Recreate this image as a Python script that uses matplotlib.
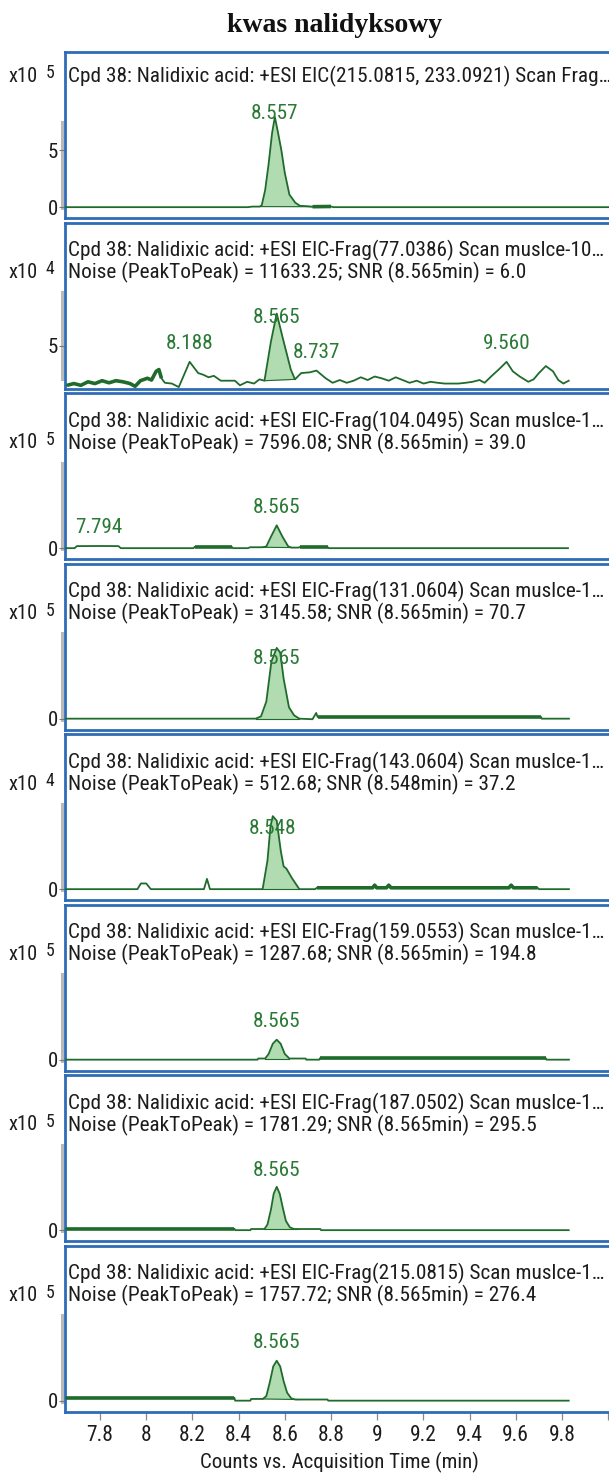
import matplotlib
matplotlib.use("Agg")
import matplotlib.pyplot as plt
import numpy as np

# ---------------- data ----------------
title = "kwas nalidyksowy"
xlabel = "Counts vs. Acquisition Time (min)"

headers = [
    ["Cpd 38: Nalidixic acid: +ESI EIC(215.0815, 233.0921) Scan Frag…"],
    ["Cpd 38: Nalidixic acid: +ESI EIC-Frag(77.0386) Scan muslce-10…",
     "Noise (PeakToPeak) = 11633.25; SNR (8.565min) = 6.0"],
    ["Cpd 38: Nalidixic acid: +ESI EIC-Frag(104.0495) Scan muslce-1…",
     "Noise (PeakToPeak) = 7596.08; SNR (8.565min) = 39.0"],
    ["Cpd 38: Nalidixic acid: +ESI EIC-Frag(131.0604) Scan muslce-1…",
     "Noise (PeakToPeak) = 3145.58; SNR (8.565min) = 70.7"],
    ["Cpd 38: Nalidixic acid: +ESI EIC-Frag(143.0604) Scan muslce-1…",
     "Noise (PeakToPeak) = 512.68; SNR (8.548min) = 37.2"],
    ["Cpd 38: Nalidixic acid: +ESI EIC-Frag(159.0553) Scan muslce-1…",
     "Noise (PeakToPeak) = 1287.68; SNR (8.565min) = 194.8"],
    ["Cpd 38: Nalidixic acid: +ESI EIC-Frag(187.0502) Scan muslce-1…",
     "Noise (PeakToPeak) = 1781.29; SNR (8.565min) = 295.5"],
    ["Cpd 38: Nalidixic acid: +ESI EIC-Frag(215.0815) Scan muslce-1…",
     "Noise (PeakToPeak) = 1757.72; SNR (8.565min) = 276.4"],
]
exponents = [5, 4, 5, 5, 4, 5, 5, 5]
yticks = [[0, 5], [5], [0], [0], [0], [0], [0], [0]]

x_ticks = [7.8, 8.0, 8.2, 8.4, 8.6, 8.8, 9.0, 9.2, 9.4, 9.6, 9.8, 10.0]
x_ticklabels = ["7.8", "8", "8.2", "8.4", "8.6", "8.8", "9", "9.2", "9.4", "9.6", "9.8", ""]

# panel 1 (x10^5)
p1_t = [7.650, 8.440, 8.460, 8.490, 8.500, 8.515, 8.530, 8.545, 8.557, 8.570,
        8.585, 8.600, 8.620, 8.645, 8.665, 8.700, 8.720, 8.800, 8.810, 10.070]
p1_y = [0, 0, 0.05, 0.05, 0.15, 1.5, 3.8, 6.5, 7.9, 6.6,
        5.0, 3.0, 1.1, 0.4, 0.12, 0.08, 0.04, 0.06, 0, 0]
p1_peaks = [8.557]
p1_fill = (8.490, 8.720)
p1_dense = [(8.720, 8.800)]

# panel 2 (x10^4)
p2_t = [7.657, 7.687, 7.717, 7.748, 7.778, 7.809, 7.839, 7.869, 7.899, 7.930,
        7.952, 7.975, 8.005, 8.023, 8.043, 8.055, 8.066, 8.081, 8.111, 8.141,
        8.164, 8.188, 8.225, 8.247, 8.270, 8.293, 8.323, 8.353, 8.384, 8.406,
        8.437, 8.467, 8.490, 8.512, 8.540, 8.565, 8.595, 8.626, 8.644, 8.671,
        8.709, 8.737, 8.777, 8.807, 8.838, 8.868, 8.898, 8.929, 8.959, 8.989,
        9.019, 9.050, 9.080, 9.110, 9.140, 9.171, 9.201, 9.231, 9.262, 9.292,
        9.322, 9.352, 9.382, 9.413, 9.443, 9.465, 9.496, 9.526, 9.560, 9.587,
        9.617, 9.654, 9.677, 9.700, 9.730, 9.761, 9.784, 9.806, 9.829]
p2_y = [0.28, 0.49, 0.28, 0.70, 0.49, 0.83, 0.58, 0.83, 0.70, 0.49,
        0.16, 0.83, 1.12, 0.91, 1.95, 2.16, 1.12, 0.58, 0.49, 0.07,
        1.54, 3.08, 1.74, 1.54, 1.24, 1.41, 0.83, 0.83, 0.83, 0.28,
        0.70, 0.49, 0.99, 0.83, 5.50, 8.84, 5.50, 2.16, 0.99, 1.74,
        1.83, 2.04, 1.12, 0.58, 0.91, 0.58, 0.83, 1.24, 0.91, 1.33,
        1.12, 0.83, 1.24, 0.91, 0.58, 0.83, 0.49, 0.70, 0.58, 0.49,
        0.49, 0.49, 0.58, 0.70, 0.91, 0.58, 1.41, 2.16, 3.08, 1.95,
        1.33, 0.70, 0.99, 1.74, 2.58, 1.95, 0.91, 0.49, 0.83]
p2_peaks = [8.188, 8.565, 8.737, 9.560]
p2_fill = (8.512, 8.644)
p2_dense = [(7.657, 8.066)]

# panel 3 (x10^5)
p3_t = [7.653, 7.690, 7.700, 7.794, 7.880, 7.890, 8.205, 8.210, 8.370, 8.375,
        8.440, 8.450, 8.505, 8.520, 8.540, 8.565, 8.590, 8.615, 8.630, 8.660,
        8.665, 8.785, 8.790, 9.826]
p3_y = [0, 0, 0.18, 0.19, 0.18, 0, 0, 0.12, 0.12, 0,
        0, 0.08, 0.08, 0.15, 1.0, 2.0, 1.0, 0.15, 0.05, 0.05,
        0.1, 0.1, 0, 0]
p3_peaks = [7.794, 8.565]
p3_fill = (8.505, 8.630)
p3_dense = [(8.210, 8.370), (8.665, 8.785)]

# panel 4 (x10^5)
p4_t = [7.653, 8.474, 8.497, 8.520, 8.542, 8.565, 8.580, 8.595, 8.618, 8.640,
        8.663, 8.720, 8.730, 8.736, 8.742, 9.709, 9.712, 9.830]
p4_y = [0, 0, 0.2, 1.5, 5.0, 6.2, 5.8, 3.5, 1.0, 0.3,
        0.0, -0.05, 0.3, 0.5, 0.15, 0.15, 0, 0]
p4_peaks = [8.565]
p4_fill = (8.474, 8.663)
p4_dense = [(8.742, 9.709)]

# panel 5 (x10^4)
p5_t = [7.653, 7.962, 7.977, 8.000, 8.020, 8.250, 8.263, 8.276, 8.504, 8.525,
        8.538, 8.548, 8.565, 8.583, 8.595, 8.607, 8.630, 8.663, 8.731, 8.739,
        8.980, 8.989, 8.998, 9.040, 9.050, 9.060, 9.570, 9.580, 9.590, 9.694,
        9.700, 9.830]
p5_y = [0, 0, 0.5, 0.5, 0, 0, 0.9, 0, 0, 2.5,
        5.5, 6.4, 6.0, 3.3, 2.0, 1.8, 1.0, 0, 0, 0.12,
        0.12, 0.35, 0.12, 0.12, 0.35, 0.12, 0.12, 0.35, 0.12, 0.12,
        0, 0]
p5_peaks = [8.548]
p5_fill = (8.504, 8.663)
p5_dense = [(8.739, 9.694)]

# panel 6 (x10^5)
p6_t = [7.653, 8.482, 8.485, 8.515, 8.530, 8.548, 8.565, 8.582, 8.600, 8.620,
        8.690, 8.693, 8.750, 8.752, 9.730, 9.733, 9.830]
p6_y = [0, 0, 0.1, 0.1, 0.5, 1.4, 1.75, 1.4, 0.5, 0.1,
        0.1, 0, 0, 0.12, 0.12, 0, 0]
p6_peaks = [8.565]
p6_fill = (8.515, 8.620)
p6_dense = [(8.752, 9.730)]

# panel 7 (x10^5)
p7_t = [7.653, 8.382, 8.385, 8.451, 8.454, 8.512, 8.525, 8.540, 8.552, 8.565,
        8.578, 8.592, 8.605, 8.622, 8.640, 8.656, 8.754, 8.757, 9.829]
p7_y = [0.12, 0.12, 0, 0, 0.1, 0.1, 0.5, 1.8, 3.2, 3.8,
        3.2, 1.9, 0.8, 0.25, 0.1, 0.1, 0.1, 0, 0]
p7_peaks = [8.565]
p7_fill = (8.512, 8.656)
p7_dense = [(7.653, 8.382)]

# panel 8 (x10^5)
p8_t = [7.653, 8.382, 8.385, 8.451, 8.454, 8.505, 8.520, 8.535, 8.550, 8.565,
        8.580, 8.595, 8.610, 8.628, 8.645, 8.660, 8.785, 8.788, 9.829]
p8_y = [0.25, 0.25, 0, 0, 0.15, 0.15, 0.4, 1.6, 3.0, 3.5,
        3.0, 1.7, 0.7, 0.2, 0.1, 0.1, 0.1, 0, 0]
p8_peaks = [8.565]
p8_fill = (8.505, 8.660)
p8_dense = [(7.653, 8.382)]

panels = [
    (p1_t, p1_y, p1_peaks, p1_fill, p1_dense),
    (p2_t, p2_y, p2_peaks, p2_fill, p2_dense),
    (p3_t, p3_y, p3_peaks, p3_fill, p3_dense),
    (p4_t, p4_y, p4_peaks, p4_fill, p4_dense),
    (p5_t, p5_y, p5_peaks, p5_fill, p5_dense),
    (p6_t, p6_y, p6_peaks, p6_fill, p6_dense),
    (p7_t, p7_y, p7_peaks, p7_fill, p7_dense),
    (p8_t, p8_y, p8_peaks, p8_fill, p8_dense),
]
ylims = [(-0.95, 13.6), (-0.1, 19.7), (-0.95, 13.6), (-0.95, 13.6),
         (-0.95, 13.6), (-0.95, 13.6), (-0.95, 13.6), (-0.95, 13.6)]

# ---------------- style ----------------
W, H = 609, 1477
SANS = ["Liberation Sans Narrow", "Roboto Condensed", "DejaVu Sans"]
LINE = "#1f6b2c"
FILL = "#a9d8a9"
LABEL = "#2a7a36"
BLUE = "#2f6cb7"
TXT = "#1c1c1c"
FS = 15.3

plt.rcParams["font.family"] = SANS

fig = plt.figure(figsize=(W / 100, H / 100), dpi=100)

X0_PX, X1_PX = 65, 625
XLIM = (7.8 - 35 / 231.0, 7.8 + 525 / 231.0)
TOP0, PITCH, PH = 52, 170.5, 166

for i, (t, y, peaks, fill_rng, dense) in enumerate(panels):
    top = TOP0 + PITCH * i
    ax = fig.add_axes([X0_PX / W, 1 - (top + PH) / H, (X1_PX - X0_PX) / W, PH / H])
    ax.set_xlim(*XLIM)
    ax.set_ylim(*ylims[i])
    t = np.asarray(t, float)
    y = np.asarray(y, float)

    # integrated peak area: between the trace and a straight baseline
    m = (t >= fill_rng[0] - 1e-9) & (t <= fill_rng[1] + 1e-9)
    tf, yf = t[m], y[m]
    base = np.interp(tf, [tf[0], tf[-1]], [yf[0], yf[-1]])
    ax.fill_between(tf, base, yf, color=FILL, alpha=0.9, lw=0, zorder=2)
    ax.plot([tf[0], tf[-1]], [yf[0], yf[-1]], color=LINE, lw=0.8, zorder=3)

    ax.plot(t, y, color=LINE, lw=1.3, zorder=4, solid_joinstyle="round")
    for a, b in dense:
        md = (t >= a - 1e-9) & (t <= b + 1e-9)
        ax.plot(t[md], y[md], color=LINE, lw=2.6, zorder=4, solid_capstyle="butt")

    # spines
    for side in ("left", "right", "top", "bottom"):
        ax.spines[side].set_color(BLUE)
        ax.spines[side].set_linewidth(2.0)

    ax.set_yticks(yticks[i])
    ax.set_yticklabels([str(v) for v in yticks[i]])
    ax.tick_params(axis="y", direction="out", length=4, width=0.8, color="#777777",
                   pad=1, labelsize=15, labelcolor=TXT)
    if i == len(panels) - 1:
        ax.set_xticks(x_ticks)
        ax.set_xticklabels(x_ticklabels)
        ax.tick_params(axis="x", direction="out", length=6, width=0.9, color="#888888",
                       pad=4, labelsize=15.5, labelcolor=TXT)
    else:
        ax.set_xticks([])

    # gray bar beside the y axis
    ax.plot([-0.006, -0.006], [0.06, 0.58], transform=ax.transAxes, clip_on=False,
            color="#b9b9b9", lw=2.2, zorder=1)

    # header lines
    nlines = len(headers[i])
    offs = [24] if nlines == 1 else [28, 50]
    for line, off in zip(headers[i], offs):
        fig.text(68 / W, 1 - (top + off) / H, line, fontsize=FS, color=TXT,
                 ha="left", va="center")
    # x10^n
    yy = 1 - (top + offs[-1]) / H
    fig.text(8 / W, yy, "x10", fontsize=FS - 0.5, color=TXT, ha="left", va="center")
    fig.text(46 / W, yy + 3 / H, str(exponents[i]), fontsize=FS - 2.5, color=TXT,
             ha="left", va="center")

    # peak labels: 18 px above the apex, kept below the header
    cap_px = (1 - (top + (61 if nlines == 1 else 95)) / H) * H
    for pk in peaks:
        apex = float(np.interp(pk, t, y))
        dx, dy = ax.transData.transform((pk, apex))
        ly = min(dy + 18, cap_px)
        lx, lyd = ax.transData.inverted().transform((dx, ly))
        ax.text(pk, lyd, f"{pk:.3f}", color=LABEL, fontsize=FS, ha="center",
                va="center", zorder=5)

fig.text(335 / W, 1 - 25 / H, title, family="Liberation Serif", weight="bold",
         fontsize=20, ha="center", va="center", color="#111111")
fig.text(339 / W, 1 - 1462 / H, xlabel, fontsize=15, ha="center", va="center",
         color=TXT)

fig.savefig("out.png", dpi=100)
